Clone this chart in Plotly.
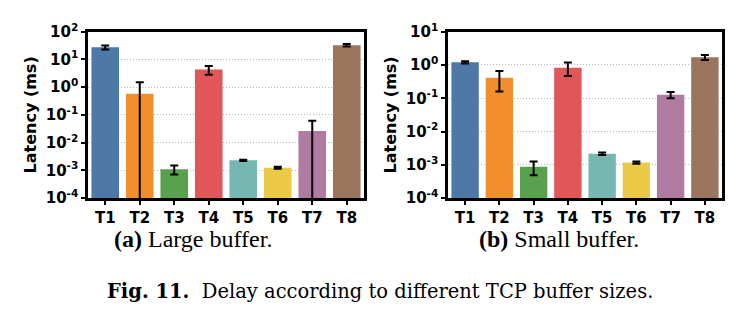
import plotly.graph_objects as go

categories = ["T1", "T2", "T3", "T4", "T5", "T6", "T7", "T8"]
colors = ["#4e79a7", "#f28e2b", "#59a14f", "#e15759", "#76b7b2", "#edc948", "#b07aa1", "#9c755f"]

large_mean = [27.5, 0.575, 0.00111, 4.3, 0.0023, 0.00124, 0.0263, 32.5]
large_err = [4.5, 0.925, 0.0004, 1.5, 0.0001, 0.0001, 0.0356, 3.5]

small_mean = [1.2, 0.41, 0.00087, 0.83, 0.00215, 0.00117, 0.127, 1.70]
small_err = [0.1, 0.25, 0.00038, 0.36, 0.00019, 0.0001, 0.027, 0.3]

left_tickvals = [1e-4, 1e-3, 1e-2, 1e-1, 1e0, 1e1, 1e2]
left_ticktext = ["10<sup>-4</sup>", "10<sup>-3</sup>", "10<sup>-2</sup>", "10<sup>-1</sup>",
                 "10<sup>0</sup>", "10<sup>1</sup>", "10<sup>2</sup>"]
right_tickvals = [1e-4, 1e-3, 1e-2, 1e-1, 1e0, 1e1]
right_ticktext = ["10<sup>-4</sup>", "10<sup>-3</sup>", "10<sup>-2</sup>", "10<sup>-1</sup>",
                  "10<sup>0</sup>", "10<sup>1</sup>"]

captions = ["<b>(a)</b> Large buffer.", "<b>(b)</b> Small buffer."]
fig_caption = "<b>Fig. 11.</b>  Delay according to different TCP buffer sizes."

W, H = 756, 335
tickfont = dict(family="DejaVu Sans", size=15, color="black", weight="bold")

fig = go.Figure()
for i, (mean, err) in enumerate([(large_mean, large_err), (small_mean, small_err)]):
    sfx = "" if i == 0 else "2"
    fig.add_trace(go.Bar(
        x=categories, y=mean,
        marker=dict(color=colors, line=dict(width=0)),
        width=0.8,
        error_y=dict(type="data", array=err, visible=True, color="black", thickness=2, width=4),
        xaxis="x" + sfx, yaxis="y" + sfx, showlegend=False,
    ))

def xaxis(domain, anchor):
    return dict(domain=domain, anchor=anchor, type="category", range=[-0.5, 7.5],
                showline=True, linecolor="black", linewidth=2.5, mirror=True,
                ticks="outside", ticklen=4, tickcolor="black", tickwidth=1.5,
                showgrid=False, tickfont=tickfont, zeroline=False)

def yaxis(domain, anchor, rng, tv, tt):
    return dict(domain=domain, anchor=anchor, type="log", range=rng,
                tickvals=tv, ticktext=tt,
                showline=True, linecolor="black", linewidth=2.5, mirror=True,
                ticks="outside", ticklen=4, tickcolor="black", tickwidth=1.5,
                showgrid=True, gridcolor="#b8b8b8", griddash="1px,2px", gridwidth=1.2,
                tickfont=tickfont, zeroline=False,
                title=dict(text="Latency (ms)", standoff=6,
                           font=dict(family="DejaVu Sans", size=16, color="black", weight="bold")))

ydom = [1 - 199 / H, 1 - 22 / H]
fig.update_layout(
    width=W, height=H,
    margin=dict(l=0, r=0, t=0, b=0),
    paper_bgcolor="white", plot_bgcolor="white",
    bargap=0.2,
    xaxis=xaxis([88 / W, 364 / W], "y"),
    yaxis=yaxis(ydom, "x", [-4, 2], left_tickvals, left_ticktext),
    xaxis2=xaxis([448 / W, 722 / W], "y2"),
    yaxis2=yaxis(ydom, "x2", [-4, 1], right_tickvals, right_ticktext),
    annotations=[
        dict(text=captions[0], x=193 / W, y=1 - 242 / H, xref="paper", yref="paper",
             showarrow=False, xanchor="center", yanchor="middle",
             font=dict(family="Liberation Serif", size=24, color="black")),
        dict(text=captions[1], x=559 / W, y=1 - 242 / H, xref="paper", yref="paper",
             showarrow=False, xanchor="center", yanchor="middle",
             font=dict(family="Liberation Serif", size=24, color="black")),
        dict(text=fig_caption, x=380 / W, y=1 - 298 / H, xref="paper", yref="paper",
             showarrow=False, xanchor="center", yanchor="middle",
             font=dict(family="DejaVu Serif", size=19.5, color="black")),
    ],
)

fig.write_html("out.html")
